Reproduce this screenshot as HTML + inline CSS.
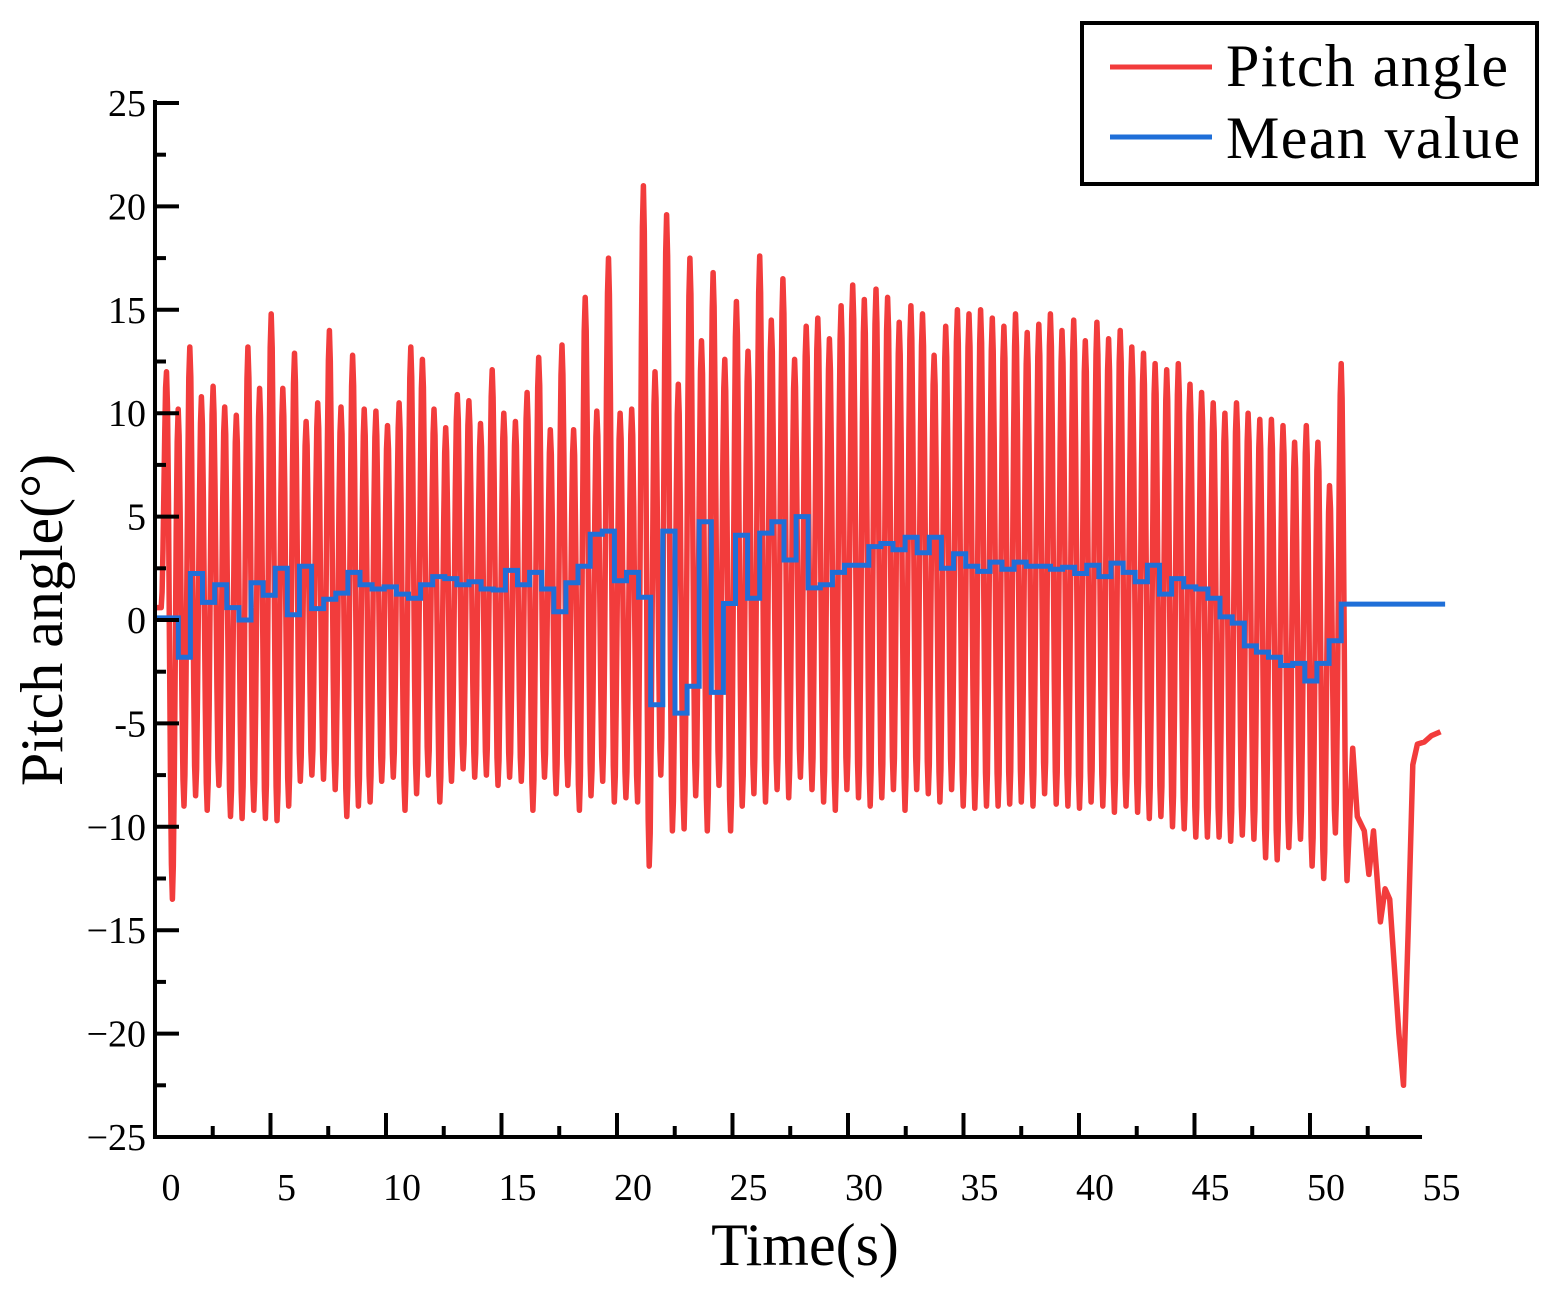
<!DOCTYPE html>
<html><head><meta charset="utf-8"><style>
html,body{margin:0;padding:0;background:#fff;}
svg{display:block;font-family:"Liberation Serif",serif;}
</style></head><body>
<svg id="chart" width="1562" height="1291" viewBox="0 0 1562 1291" xmlns="http://www.w3.org/2000/svg">
<g id="plot"></g>
<g id="axes"></g>
<text x="805" y="1265" font-size="60" text-anchor="middle">Time(s)</text>
<text transform="translate(62,620) rotate(-90)" font-size="60" text-anchor="middle">Pitch angle(°)</text>
<g>
<rect x="1082" y="23" width="455" height="161" fill="#fff" stroke="#000" stroke-width="4"/>
<line x1="1110" y1="67" x2="1212" y2="67" stroke="#f23c3c" stroke-width="5"/>
<text x="1226" y="86" font-size="60" textLength="282">Pitch angle</text>
<line x1="1110" y1="137" x2="1212" y2="137" stroke="#1f6fd8" stroke-width="5"/>
<text x="1226" y="158" font-size="60" textLength="294">Mean value</text>
</g>
</svg>
<script>
const peaks=[12,10.2,13.2,10.8,11.3,10.3,9.9,13.2,11.2,14.8,11.2,12.9,9.6,10.5,14.0,10.3,12.8,10.2,10.1,9.4,
10.5,13.2,12.6,10.2,9.3,10.9,10.6,9.5,12.1,10.0,9.6,11.0,12.7,9.2,13.3,9.2,15.6,10.1,17.5,10.0,
10.2,21.0,12.0,19.6,11.4,17.5,13.5,16.8,12.6,15.4,13.0,17.6,14.5,16.5,12.6,14.2,14.6,13.6,15.2,16.2,
15.5,16.0,15.6,14.4,15.2,14.8,12.8,14.2,15.0,14.8,15.0,14.6,14.2,14.8,13.9,14.3,14.8,14.0,14.5,13.5,
14.4,13.6,14.0,13.2,12.9,12.4,12.1,12.4,11.4,11.0,10.5,10.0,10.5,10.0,9.7,9.7,9.4,8.6,9.4,8.6,6.5,12.4];
const troughs=[-13.5,-9,-8.5,-9.2,-8,-9.5,-9.6,-9.2,-9.6,-9.7,-9,-7.8,-7.5,-7.7,-8.2,-9.5,-9,-8.8,-7.8,-7.6,
-9.2,-8.4,-7.5,-8.8,-7.8,-7.2,-7.6,-7.5,-8.0,-7.6,-7.8,-9.2,-7.6,-8.4,-8,-9.2,-8.5,-7.8,-8.8,-8.6,
-8.8,-11.9,-7.5,-10.2,-10.1,-8.5,-10.2,-8.0,-10.2,-9,-8.4,-8.8,-8.2,-8.6,-7.6,-8.2,-8.8,-9.2,-8.2,-8.6,
-9,-8.6,-8.2,-9.2,-8.2,-8.4,-8.8,-8.2,-9,-9.1,-9,-9,-8.9,-8.8,-9,-8.4,-8.9,-9,-9.1,-8.8,
-9,-9.3,-9,-9.3,-9.6,-9.5,-10,-10.1,-10.5,-10.5,-10.5,-10.7,-10.4,-10.6,-11.5,-11.6,-11,-10.6,-11.9,-12.5,-10.3,-12.6];
const tailT=[51.2,51.4,51.7,51.9,52.1,52.4,52.6,52.8,53.2,53.4,53.6,53.8,54.0,54.3,54.6,55.0];
const tailV=[-6.2,-9.5,-10.2,-12.3,-10.2,-14.6,-13.0,-13.5,-20,-22.5,-15,-7,-6.0,-5.9,-5.6,-5.4];
const meanVals=[-1.8,2.25,0.85,1.7,0.6,0,1.8,1.2,2.5,0.25,2.6,0.55,1.0,1.3,2.3,1.7,1.5,1.6,1.25,1.05,
1.7,2.1,2.0,1.7,1.85,1.5,1.45,2.4,1.7,2.3,1.5,0.4,1.8,2.6,4.15,4.3,1.9,2.3,1.1,
-4.1,4.3,-4.5,-3.2,4.75,-3.5,0.8,4.1,1.05,4.2,4.75,2.9,5.0,1.55,1.7,2.3,2.65,2.65,3.55,3.7,3.4,4.0,3.25,4.0,2.5,3.2,2.6,2.35,2.8,2.45,2.8,2.6,2.6,2.45,
2.55,2.25,2.65,2.1,2.75,2.3,1.85,2.65,1.25,2.0,1.6,1.5,1.05,0.15,-0.15,-1.25,-1.55,-1.8,-2.2,-2.1,-2.95,-2.1,-1.0];
const meanStart=0.1, meanEnd=0.77;
const xTickLabels=[0,5,10,15,20,25,30,35,40,45,50,55];
const yTickLabels=["25","20","15","10","5","0","-5","\u221210","\u221215","\u221220","\u221225"];
const yTickValues=[25,20,15,10,5,0,-5,-10,-15,-20,-25];

const X=t=>170+23.1*t, Y=v=>620-20.68*v;
const T0=-0.65, T1=54.2;
const ns="http://www.w3.org/2000/svg";
function mk(tag,attrs,parent){const e=document.createElementNS(ns,tag);for(const k in attrs)e.setAttribute(k,attrs[k]);parent.appendChild(e);return e;}
const plot=document.getElementById('plot'), axes=document.getElementById('axes');

const p0=-0.15, per=(50.7-p0)/(peaks.length-1);
let pts=[[T0,0.6],[-0.38,0.6]];
let ext=[];
for(let i=0;i<peaks.length;i++){ext.push([p0+i*per,peaks[i]]);ext.push([p0+i*per+per/2,troughs[i]]);}
let prev=[-0.38,0.6];
for(const e of ext){
  for(let s=1;s<=6;s++){const f=(1-Math.cos(Math.PI*s/6))/2;pts.push([prev[0]+(e[0]-prev[0])*s/6,prev[1]+(e[1]-prev[1])*f]);}
  prev=e;
}
for(let i=0;i<tailT.length;i++)pts.push([tailT[i],tailV[i]]);
let d=pts.map((p,i)=>(i?'L':'M')+X(p[0]).toFixed(1)+' '+Y(p[1]).toFixed(1)).join(' ');
const red=mk('path',{d:d,fill:'none',stroke:'#f23c3c','stroke-width':5.5,'stroke-linejoin':'round'},plot);



const ms=0.36, me=50.7, w=(me-ms)/meanVals.length;
let bd='M'+X(T0)+' '+Y(meanStart)+' H'+X(ms);
meanVals.forEach((v,i)=>{bd+=' V'+Y(v).toFixed(1)+' H'+X(ms+(i+1)*w).toFixed(1);});
bd+=' V'+Y(meanEnd)+' H'+X(55.2);
const blue=mk('path',{d:bd,fill:'none',stroke:'#1f6fd8','stroke-width':5},plot);



const ya=mk('line',{x1:X(T0),y1:Y(25)-3,x2:X(T0),y2:Y(-25)+2,stroke:'#000','stroke-width':4},axes);


const xa=mk('line',{x1:X(T0)-2,y1:Y(-25),x2:X(T1),y2:Y(-25),stroke:'#000','stroke-width':4},axes);


for(let v=-25;v<=25;v+=2.5){
  const major=Math.abs(v%5)<1e-6;
  const t=mk('line',{x1:X(T0),y1:Y(v),x2:X(T0)+(major?24:11),y2:Y(v),stroke:'#000','stroke-width':4},axes);
  
  
}
yTickValues.forEach((v,i)=>{
  const t=mk('text',{x:146,y:Y(v)+13,'font-size':38,'text-anchor':'end'},axes);
  t.textContent=yTickLabels[i];
  
  
});
for(let k=1;k<22;k++){
  const tt=T0+2.5*k; if(tt>T1-0.1)break;
  const major=k%2==0;
  const t=mk('line',{x1:X(tt),y1:Y(-25),x2:X(tt),y2:Y(-25)-(major?24:11),stroke:'#000','stroke-width':4},axes);
  
  
}
xTickLabels.forEach(v=>{
  const t=mk('text',{x:X(v)+1,y:1200,'font-size':38,'text-anchor':'middle'},axes);
  t.textContent=String(v);
  
  
});
</script>
</body></html>
